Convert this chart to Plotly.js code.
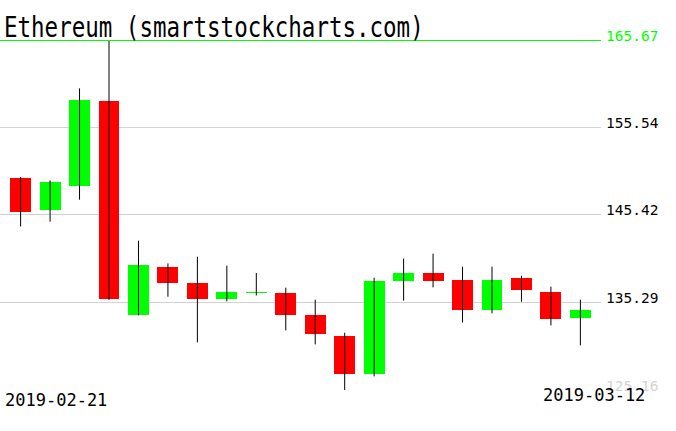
<!DOCTYPE html>
<html>
<head>
<meta charset="utf-8">
<script src="https://cdn.plot.ly/plotly-3.0.1.min.js"></script>
<style>html,body{margin:0;padding:0;background:#fff;}#chart{width:676px;height:431px;}
.shapelayer path{shape-rendering:crispEdges;}</style>
</head>
<body>
<div id="chart"></div>
<script>
const titleText = "Ethereum (smartstockcharts.com)";
const dates = ["2019-02-21","2019-02-22","2019-02-23","2019-02-24","2019-02-25","2019-02-26","2019-02-27","2019-02-28","2019-03-01","2019-03-02","2019-03-03","2019-03-04","2019-03-05","2019-03-06","2019-03-07","2019-03-08","2019-03-09","2019-03-10","2019-03-11","2019-03-12"];
const openV  = [149.73,146.03,148.81,158.64,133.88,139.43,137.58,135.73,136.38,136.42,133.88,131.45,127.05,137.81,138.74,137.93,134.46,138.16,136.54,133.53];
const highV  = [149.80,149.42,160.07,165.67,142.44,139.81,140.59,139.55,138.70,137.00,135.61,131.79,138.16,140.36,140.94,139.43,139.43,138.39,137.12,135.61];
const lowV   = [144.10,144.64,147.19,135.60,133.80,135.96,130.67,135.42,136.10,132.06,130.44,125.16,126.74,135.50,137.04,132.98,134.03,135.38,132.64,130.32];
const closeV = [145.80,149.27,158.76,135.73,139.66,137.50,135.73,136.54,136.50,133.80,131.60,127.05,137.81,138.74,137.81,134.46,137.93,136.77,133.41,134.46];
const yTicks = [125.16,135.29,145.42,155.54,165.67];
const yTickLabels = ["125.16","135.29","145.42","155.54","165.67"];

const UP = "#00ff00", DOWN = "#ff0000";

// wicks
const wx = [], wy = [];
dates.forEach((d,i)=>{ wx.push(d,d,null); wy.push(lowV[i],highV[i],null); });
const wicks = {type:"scatter", mode:"lines", x:wx, y:wy, line:{color:"#000", width:1}, hoverinfo:"skip", cliponaxis:false, connectgaps:false};

const bodies = {
  type:"bar", x:dates,
  base: dates.map((d,i)=>Math.min(openV[i],closeV[i])),
  y: dates.map((d,i)=>Math.abs(closeV[i]-openV[i])),
  width:0.71,
  marker:{color: dates.map((d,i)=> closeV[i]>=openV[i] ? UP : DOWN), line:{width:0}},
  hoverinfo:"skip"
};

const labelColors = ["#d3d3d3","#000","#000","#000",UP];
const annotations = yTicks.map((v,i)=>({
  xref:"paper", yref:"y", x:1, y:v, xanchor:"left", yanchor:"middle",
  xshift:3, yshift:4.5, showarrow:false, text:yTickLabels[i],
  font:{family:"DejaVu Sans Mono", size:14.5, color:labelColors[i]}
}));
annotations.push({xref:"paper", yref:"paper", x:0, y:0, xanchor:"left", yanchor:"middle", xshift:3, yshift:-10.4, showarrow:false, text:dates[0], font:{family:"DejaVu Sans Mono", size:17, color:"#000"}});
annotations.push({xref:"paper", yref:"paper", x:1, y:0, xanchor:"right", yanchor:"middle", xshift:46, yshift:-4.7, showarrow:false, text:dates[dates.length-1], font:{family:"DejaVu Sans Mono", size:17, color:"#000"}});

const layout = {
  width:676, height:431,
  margin:{l:0, r:75, t:40, b:41, pad:0},
  paper_bgcolor:"#fff", plot_bgcolor:"#fff",
  showlegend:false,
  title:{text:titleText, x:4/676, xref:"container", xanchor:"left", y:1-37/431, yref:"container", yanchor:"bottom", font:{family:"DejaVu Sans Mono", size:22.5, color:"#000"}, pad:{t:0,b:0,l:0,r:0}},
  xaxis:{type:"category", range:[-0.7,19.7], showgrid:false, showticklabels:false, zeroline:false, showline:false, ticks:"", fixedrange:true},
  yaxis:{range:[yTicks[0], yTicks[yTicks.length-1]], tickvals:yTicks, showticklabels:false, showgrid:true, gridcolor:"#d3d3d3", gridwidth:1, zeroline:false, showline:false, ticks:"", side:"right", fixedrange:true},
  shapes:[{type:"line", xref:"paper", yref:"y", x0:0, x1:1, y0:yTicks[yTicks.length-1], y1:yTicks[yTicks.length-1], line:{color:UP, width:1}}],
  annotations:annotations,
  bargap:0
};

Plotly.newPlot("chart", [wicks, bodies], layout, {staticPlot:true, displayModeBar:false}).then(()=>{
  const t = document.querySelector(".gtitle");
  if (t) {
    const y0 = parseFloat(t.getAttribute("y")) || 0;
    const prev = t.getAttribute("transform") || "";
    t.setAttribute("transform", prev + " translate(0," + y0 + ") scale(1,1.28) translate(0," + (-y0) + ")");
  }
});
</script>
</body>
</html>
